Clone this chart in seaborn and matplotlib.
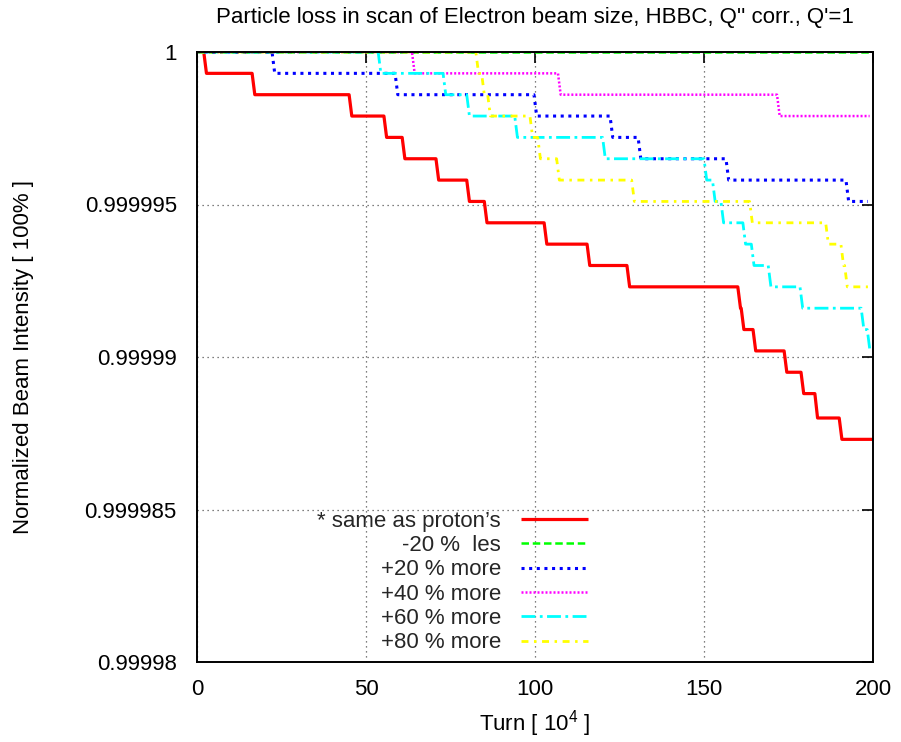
import numpy as np
import pandas as pd
import seaborn as sns
import matplotlib
matplotlib.use("Agg")
import matplotlib.pyplot as plt
from matplotlib.ticker import FixedLocator, FuncFormatter

# ---- data (turn in 10^4, normalized intensity after each loss step) ----
red_turns = [2, 16.3, 45, 55.3, 60.7, 70.7, 79.8, 85, 102.7, 115.4, 127.2,
             160, 161, 164.5, 173.7, 178.7, 182.8, 190]
red_vals = [0.9999993, 0.9999986, 0.9999979, 0.9999972, 0.9999965, 0.9999958,
            0.9999951, 0.9999944, 0.9999937, 0.9999930, 0.9999923, 0.9999916,
            0.9999909, 0.9999902, 0.9999895, 0.9999888, 0.9999880, 0.9999873]

green_turns = []
green_vals = []

blue_turns = [22.2, 58.6, 99.7, 122.2, 130.5, 156.5, 192]
blue_vals = [0.9999993, 0.9999986, 0.9999979, 0.9999972, 0.9999965, 0.9999958,
             0.9999951]

magenta_turns = [63.6, 106.8, 171.6]
magenta_vals = [0.9999993, 0.9999986, 0.9999979]

cyan_turns = [53.6, 72.8, 79.8, 94, 120, 150, 152.5, 155, 161.5, 164, 169,
              178.4, 196.5, 198.3]
cyan_vals = [0.9999993, 0.9999986, 0.9999979, 0.9999972, 0.9999965, 0.9999958,
             0.9999951, 0.9999944, 0.9999937, 0.9999930, 0.9999923, 0.9999916,
             0.9999909, 0.9999902]

yellow_turns = [82.5, 84.2, 86, 98.5, 100.8, 106.4, 128.6, 163.5, 186,
                190.5, 191.6]
yellow_vals = [0.9999993, 0.9999986, 0.9999979, 0.9999972, 0.9999965,
               0.9999958, 0.9999951, 0.9999944, 0.9999937, 0.9999930,
               0.9999923]

labels = ["* same as proton\u2019s", "-20 %  les", "+20 % more", "+40 % more",
          "+60 % more", "+80 % more"]
x_ticks = [0, 50, 100, 150, 200]
y_ticks = [0.99998, 0.999985, 0.99999, 0.999995, 1.0]


def path(turns, vals, end):
    xs, ys, prev = [0.0], [1.0], 1.0
    for t, v in zip(turns, vals):
        xs += [t, t + 0.8]
        ys += [prev, v]
        prev = v
    xs.append(end)
    ys.append(prev)
    return xs, ys


sns.set_theme(style="white")
plt.rcParams['font.family'] = ['Liberation Sans', 'DejaVu Sans']
plt.rcParams['mathtext.fontset'] = 'custom'
plt.rcParams['mathtext.rm'] = 'Liberation Sans'

FS = 16

fig = plt.figure(figsize=(9.01, 7.42), dpi=100)
ax = fig.add_axes([197 / 901, 1 - 662 / 742, (873 - 197) / 901, 610 / 742])

series = [
    (red_turns, red_vals, 200, "#ff0000", 2.3, "-"),
    (green_turns, green_vals, 199, "#00ff00", 1.8, (0, (3, 1.5))),
    (blue_turns, blue_vals, 198.5, "#0000ff", 2.2, (0, (1, 1.5))),
    (magenta_turns, magenta_vals, 199, "#ff00ff", 1.8, (0, (0.8, 0.8))),
    (cyan_turns, cyan_vals, 199, "#00ffff", 2.0, (0, (5, 1.6, 1, 1.6))),
    (yellow_turns, yellow_vals, 198.5, "#ffff00", 2.0, (0, (2.5, 2.0, 0.9, 2.0))),
]

for (t, v, end, col, lw, ls), lab in zip(series, labels):
    xs, ys = path(t, v, end)
    df = pd.DataFrame({"turn": xs, "intensity": ys})
    sns.lineplot(data=df, x="turn", y="intensity", ax=ax, color=col, lw=lw,
                 linestyle=ls, estimator=None, sort=False, label=lab,
                 solid_capstyle="butt", dash_capstyle="butt")

ax.set_xlim(0, 200)
ax.set_ylim(0.99998, 1.0)
ax.xaxis.set_major_locator(FixedLocator(x_ticks))
ax.yaxis.set_major_locator(FixedLocator(y_ticks))
ax.yaxis.set_major_formatter(FuncFormatter(lambda v, p: f"{v:.6g}"))
ax.xaxis.set_major_formatter(FuncFormatter(lambda v, p: f"{v:g}"))

ax.grid(True, color="#555555", linestyle=(0, (1, 3)), linewidth=0.9)
for s in ax.spines.values():
    s.set_color("black")
    s.set_linewidth(1.4)
ax.tick_params(direction="in", length=8, width=1.2, top=True, right=True,
               labelsize=FS, colors="black")
ax.tick_params(axis="y", pad=14.5)
ax.tick_params(axis="x", pad=12)
for lab in ax.get_xticklabels() + ax.get_yticklabels():
    lab.set_color("black")

ax.set_xlabel("Turn [ 10$^{4}$ ]", fontsize=FS, color="black", labelpad=6)
ax.set_ylabel("Normalized Beam Intensity [ 100% ]", fontsize=FS,
              color="black")
ax.yaxis.set_label_coords((34 - 197) / 676, 0.5)
ax.set_title("Particle loss in scan of Electron beam size, HBBC, Q'' corr., Q'=1",
             fontsize=FS, color="black", pad=21)

leg = ax.legend(markerfirst=False, frameon=False, loc="lower right",
                bbox_to_anchor=(0.604, -0.015), fontsize=FS, handlelength=3.0,
                labelspacing=0.15, handletextpad=0.9, borderpad=0.3)

fig.savefig("out.png", dpi=100)
